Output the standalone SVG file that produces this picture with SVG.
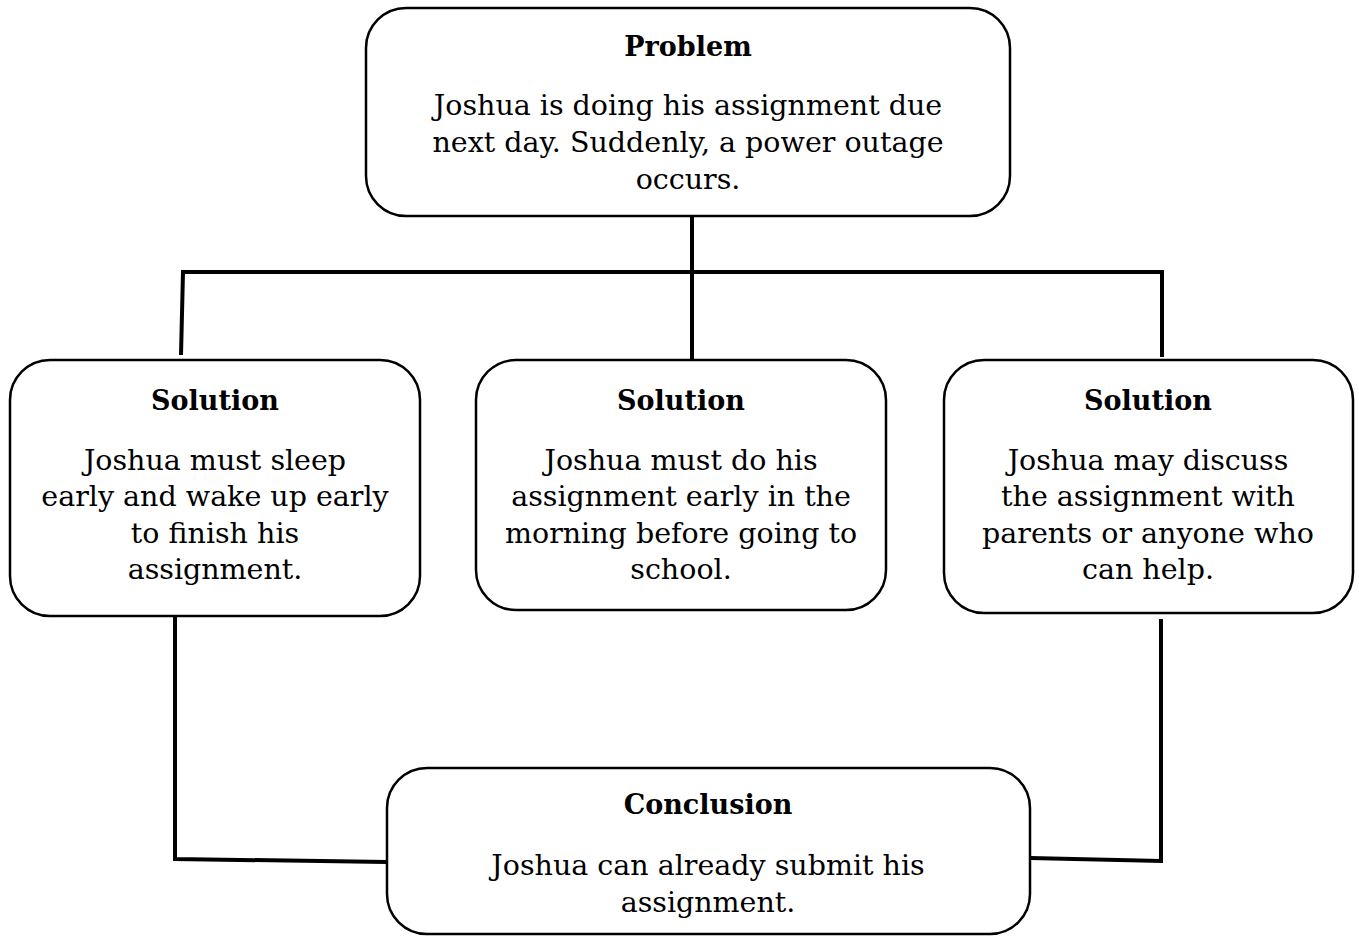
<svg xmlns="http://www.w3.org/2000/svg" width="1359" height="936" viewBox="0 0 1359 936">
<style>
.box{fill:#fff;stroke:#000;stroke-width:2.5}
.h{font-family:"DejaVu Serif","Liberation Serif",serif;font-weight:bold;font-size:27px;text-anchor:middle;fill:#000}
.t{font-family:"DejaVu Serif","Liberation Serif",serif;font-size:28.5px;text-anchor:middle;fill:#000}
.c{fill:none;stroke:#000;stroke-width:4;stroke-linejoin:miter}
</style>
<rect width="1359" height="936" fill="#fff"/>
<g id="connectors">
<path class="c" d="M692 216 V361"/>
<path class="c" d="M181 355 L183 272 H1164"/>
<path class="c" d="M1162 272 V357"/>
<path class="c" d="M175 617 V859 L387 862"/>
<path class="c" d="M1161 619 V861 L1030 858"/>
</g>
<g id="problem">
<rect class="box" x="366" y="8" width="644" height="208" rx="40"/>
<text class="h" x="688" y="56">Problem</text>
<text class="t" x="688" y="115">Joshua is doing his assignment due</text>
<text class="t" x="688" y="152">next day. Suddenly, a power outage</text>
<text class="t" x="688" y="189">occurs.</text>
</g>
<g id="solution1">
<rect class="box" x="10" y="360" width="410" height="256" rx="40"/>
<text class="h" x="215" y="410">Solution</text>
<text class="t" x="215" y="470">Joshua must sleep</text>
<text class="t" x="215" y="506">early and wake up early</text>
<text class="t" x="215" y="543">to finish his</text>
<text class="t" x="215" y="579">assignment.</text>
</g>
<g id="solution2">
<rect class="box" x="476" y="360" width="410" height="250" rx="40"/>
<text class="h" x="681" y="410">Solution</text>
<text class="t" x="681" y="470">Joshua must do his</text>
<text class="t" x="681" y="506">assignment early in the</text>
<text class="t" x="681" y="543">morning before going to</text>
<text class="t" x="681" y="579">school.</text>
</g>
<g id="solution3">
<rect class="box" x="944" y="360" width="409" height="253" rx="40"/>
<text class="h" x="1148" y="410">Solution</text>
<text class="t" x="1148" y="470">Joshua may discuss</text>
<text class="t" x="1148" y="506">the assignment with</text>
<text class="t" x="1148" y="543">parents or anyone who</text>
<text class="t" x="1148" y="579">can help.</text>
</g>
<g id="conclusion">
<rect class="box" x="387" y="768" width="643" height="166" rx="40"/>
<text class="h" x="708" y="814">Conclusion</text>
<text class="t" x="708" y="875">Joshua can already submit his</text>
<text class="t" x="708" y="912">assignment.</text>
</g>
</svg>
